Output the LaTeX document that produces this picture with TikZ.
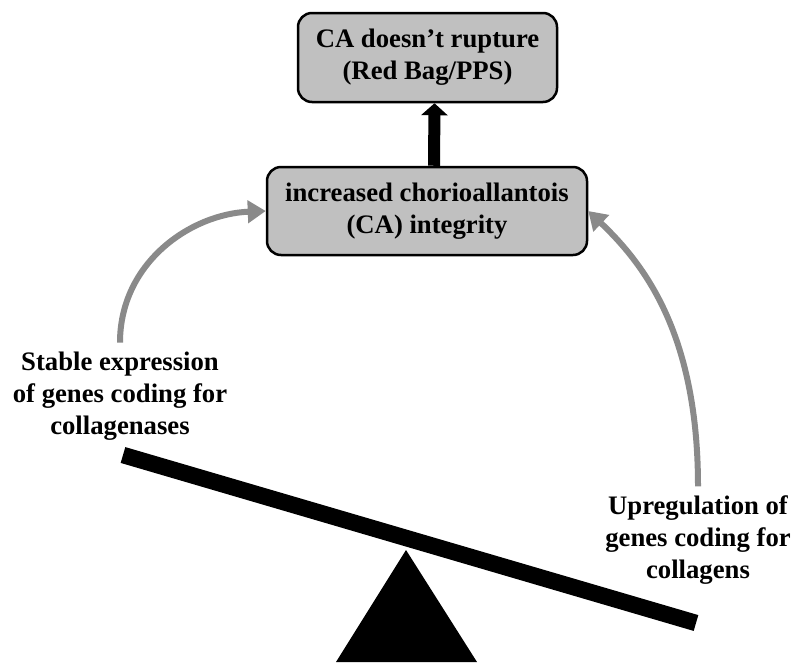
\documentclass[tikz,border=0pt]{standalone}
\usepackage{fontspec}
\setmainfont{Liberation Serif}
\usetikzlibrary{arrows.meta}
\definecolor{boxgray}{HTML}{C0C0C0}
\definecolor{arrowgray}{HTML}{8A8A8A}
\tikzset{
  x=1pt, y=-1pt,
  lbl/.style={align=center, inner sep=0pt, font=\fontsize{26.7}{32}\selectfont\bfseries},
  graybox/.style={lbl, draw=black, line width=2.5pt, fill=boxgray, rounded corners=14pt},
  grayarrow/.style={draw=arrowgray, line width=6pt, -{Triangle[length=18pt,width=22pt]}},
  blackarrow/.style={draw=black, line width=12pt, -{Triangle[length=12pt,width=26pt]}},
}
\begin{document}
\begin{tikzpicture}
\useasboundingbox (0,0) rectangle (795,662);
% boxes
\node[graybox, minimum width=259pt, minimum height=89pt] (top) at (427.5,57.5)
  {CA doesn’t rupture\\(Red Bag/PPS)};
\node[graybox, minimum width=320pt, minimum height=88pt] (mid) at (427,211)
  {increased chorioallantois\\(CA) integrity};
% side labels
\node[lbl] (lab1) at (120,396) {Stable expression\\of genes coding for\\collagenases};
\node[lbl] (lab2) at (698,540) {Upregulation of\\genes coding for\\collagens};
% arrows
\draw[blackarrow] ([xshift=7pt]mid.north) -- ([xshift=7pt]top.south);
\draw[grayarrow] ([yshift=9pt]lab1.north) .. controls +(0,-80) and +(-75,3) .. (mid.west);
\draw[grayarrow] ([yshift=9pt]lab2.north) .. controls +(0,-150) and +(58,55) .. (mid.east);
% seesaw
\coordinate (barL) at (123,455);
\coordinate (barR) at (696,623);
\draw[line width=16.5pt, black] (barL) -- (barR);
\coordinate (apex) at (406,550);
\coordinate (baseL) at (336,662);
\coordinate (baseR) at (477,662);
\fill[black] (apex) -- (baseL) -- (baseR) -- cycle;
\end{tikzpicture}
\end{document}
